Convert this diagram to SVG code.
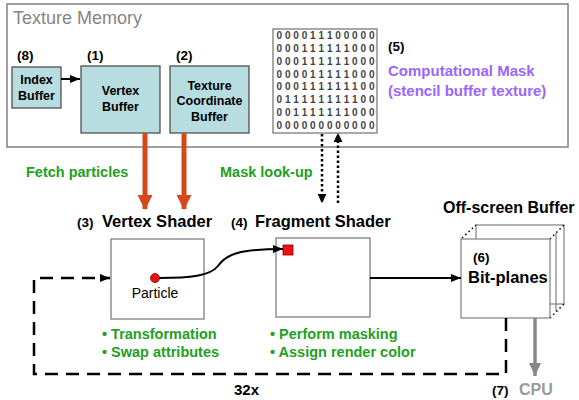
<svg xmlns="http://www.w3.org/2000/svg" width="579" height="400" viewBox="0 0 579 400">
<defs>
<style>
text{font-family:"Liberation Sans",Arial,sans-serif}
.b{font-weight:bold;fill:#000}
.num{font-weight:bold;font-size:13.5px;fill:#000}
.buf{font-weight:bold;font-size:12.5px;fill:#000;text-anchor:middle}
.title{font-weight:bold;font-size:16.5px;fill:#000}
.green{font-weight:bold;font-size:14.5px;fill:#22a022}
.purple{font-weight:bold;font-size:15px;fill:#9966ff}
.mask{font-weight:bold;font-size:10px;fill:#444;text-anchor:middle}
.teal{fill:#b7dde0;stroke:#505050;stroke-width:1.3}
.box{fill:#fff;stroke:#808080;stroke-width:1.3}
.line{fill:none;stroke:#000;stroke-width:2}
</style>
<marker id="ah" markerUnits="userSpaceOnUse" markerWidth="10" markerHeight="10" viewBox="0 0 10 10" refX="10" refY="5" orient="auto"><path d="M0,1 L10,5 L0,9 z" fill="#000"/></marker>
<marker id="ahd" markerUnits="userSpaceOnUse" markerWidth="9" markerHeight="10" viewBox="0 0 9 10" refX="9" refY="5" orient="auto"><path d="M0,0.5 L9,5 L0,9.5 z" fill="#000"/></marker>
<marker id="aho" markerUnits="userSpaceOnUse" markerWidth="15" markerHeight="15" viewBox="0 0 15 15" refX="14" refY="7.5" orient="auto"><path d="M0,0 L15,7.5 L0,15 z" fill="#d4481a"/></marker>
<marker id="ahg" markerUnits="userSpaceOnUse" markerWidth="13" markerHeight="12" viewBox="0 0 13 12" refX="13" refY="6" orient="auto"><path d="M0,0 L13,6 L0,12 z" fill="#888"/></marker>
</defs>

<g id="texture-memory">
<rect x="7" y="4" width="561" height="143" fill="#fff" stroke="#808080" stroke-width="1.5"/>
<text x="13" y="24" font-size="18" fill="#858585">Texture Memory</text>
</g>

<g id="index-buffer">
<text class="num" x="17" y="60">(8)</text>
<rect class="teal" x="12" y="67" width="49" height="41"/>
<text class="buf" x="36.5" y="84">Index</text>
<text class="buf" x="36.5" y="100">Buffer</text>
</g>

<g id="vertex-buffer">
<text class="num" x="87" y="60">(1)</text>
<rect class="teal" x="81" y="66" width="79" height="67"/>
<text class="buf" x="120.5" y="95">Vertex</text>
<text class="buf" x="120.5" y="111">Buffer</text>
</g>

<g id="texcoord-buffer">
<text class="num" x="176" y="60">(2)</text>
<rect class="teal" x="170" y="66" width="79" height="67"/>
<text class="buf" x="209.5" y="90">Texture</text>
<text class="buf" x="209.5" y="105">Coordinate</text>
<text class="buf" x="209.5" y="121">Buffer</text>
</g>

<g id="computational-mask">
<rect x="273" y="29" width="104" height="104" fill="#fff" stroke="#707070" stroke-width="1.2"/>
<text class="mask" x="279.3 287.7 296.1 304.5 312.9 321.3 329.7 338.1 346.5 354.9 363.3 371.7" y="39">000011100000</text>
<text class="mask" x="279.3 287.7 296.1 304.5 312.9 321.3 329.7 338.1 346.5 354.9 363.3 371.7" y="51.9">000111111000</text>
<text class="mask" x="279.3 287.7 296.1 304.5 312.9 321.3 329.7 338.1 346.5 354.9 363.3 371.7" y="64.7">000111111000</text>
<text class="mask" x="279.3 287.7 296.1 304.5 312.9 321.3 329.7 338.1 346.5 354.9 363.3 371.7" y="77.6">000011111000</text>
<text class="mask" x="279.3 287.7 296.1 304.5 312.9 321.3 329.7 338.1 346.5 354.9 363.3 371.7" y="90.4">000111111100</text>
<text class="mask" x="279.3 287.7 296.1 304.5 312.9 321.3 329.7 338.1 346.5 354.9 363.3 371.7" y="103.3">011111111100</text>
<text class="mask" x="279.3 287.7 296.1 304.5 312.9 321.3 329.7 338.1 346.5 354.9 363.3 371.7" y="116.2">001111111000</text>
<text class="mask" x="279.3 287.7 296.1 304.5 312.9 321.3 329.7 338.1 346.5 354.9 363.3 371.7" y="129">000000000000</text>
<text class="num" x="388" y="51">(5)</text>
<text class="purple" x="388" y="76">Computational Mask</text>
<text class="purple" x="388" y="96">(stencil buffer texture)</text>
</g>

<g id="labels">
<text class="green" x="26" y="177">Fetch particles</text>
<text class="green" x="220" y="177">Mask look-up</text>
</g>

<g id="vertex-shader">
<text class="num" x="77" y="227" font-size="13">(3)</text>
<text class="title" x="102" y="227">Vertex Shader</text>
<rect class="box" x="111" y="239" width="93" height="80"/>
<circle cx="155" cy="278" r="4.5" fill="#ee1111" stroke="#800" stroke-width="0.8"/>
<text x="155" y="298" font-size="14" fill="#000" text-anchor="middle">Particle</text>
<text class="green" x="102" y="339">• Transformation</text>
<text class="green" x="102" y="357">• Swap attributes</text>
</g>

<g id="fragment-shader">
<text class="num" x="231" y="227" font-size="13">(4)</text>
<text class="title" x="255" y="227">Fragment Shader</text>
<rect class="box" x="276" y="238" width="94" height="79"/>
<rect x="283" y="245" width="10" height="10" fill="#ee1111" stroke="#800" stroke-width="0.8"/>
<text class="green" x="270" y="339">• Perform masking</text>
<text class="green" x="270" y="357">• Assign render color</text>
</g>

<g id="off-screen-buffer">
<text class="b" x="443" y="213" font-size="16">Off-screen Buffer</text>
<rect x="476" y="225" width="88" height="79" fill="#fff" stroke="#808080" stroke-width="1.2"/>
<line x1="556" y1="233" x2="556" y2="311" stroke="#808080" stroke-width="1.2"/>
<line x1="462" y1="238" x2="476" y2="225" stroke="#000" stroke-width="1.5" stroke-dasharray="1.5,3"/>
<line x1="550" y1="239" x2="564" y2="225" stroke="#000" stroke-width="1.5" stroke-dasharray="1.5,3"/>
<line x1="550" y1="318" x2="564" y2="304" stroke="#000" stroke-width="1.5" stroke-dasharray="1.5,3"/>
<rect x="461" y="239" width="89" height="79" fill="#fff" stroke="#808080" stroke-width="1.2"/>
<text class="num" x="473" y="262">(6)</text>
<text class="title" x="468" y="283">Bit-planes</text>
</g>

<g id="cpu">
<text class="num" x="492" y="395">(7)</text>
<text x="519" y="395" font-size="16" font-weight="bold" fill="#999">CPU</text>
</g>

<g id="loop-label">
<text class="b" x="234" y="395" font-size="15">32x</text>
</g>

<g id="connectors">
<line class="line" x1="61" y1="79" x2="80" y2="79" marker-end="url(#ah)"/>
<line x1="145" y1="133" x2="145" y2="209" stroke="#d4481a" stroke-width="5" marker-end="url(#aho)"/>
<line x1="184" y1="133" x2="184" y2="209" stroke="#d4481a" stroke-width="5" marker-end="url(#aho)"/>
<line x1="322" y1="134" x2="322" y2="203" stroke="#000" stroke-width="2.5" stroke-dasharray="2.5,2.5" marker-end="url(#ahd)"/>
<line x1="338" y1="203" x2="338" y2="133" stroke="#000" stroke-width="2.5" stroke-dasharray="2.5,2.5" marker-end="url(#ahd)"/>
<path class="line" d="M159,278 C190,278 210,276 218,266 C226,254 240,249 283,249" marker-end="url(#ah)"/>
<line class="line" x1="370" y1="278" x2="461" y2="278" marker-end="url(#ah)"/>
<path d="M506,318 V374 H34 V278 H110" fill="none" stroke="#000" stroke-width="2.5" stroke-dasharray="13,8" marker-end="url(#ah)"/>
<line x1="535" y1="318" x2="535" y2="376" stroke="#888" stroke-width="3.5" marker-end="url(#ahg)"/>
</g>
</svg>
